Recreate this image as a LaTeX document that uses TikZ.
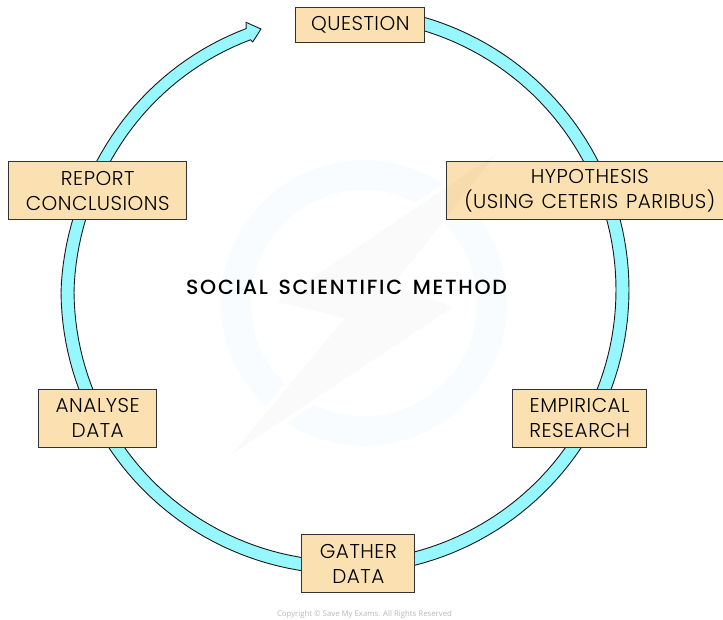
\documentclass[tikz,border=0pt]{standalone}
\usepackage{fontspec}
\setmainfont{Poppins}[UprightFont=* Light,LetterSpace=2.5,WordSpace=1.3]
\newfontfamily\titlefont{Poppins}[UprightFont=* Medium,LetterSpace=8.5,WordSpace=1.5]
\newfontfamily\copyfont{Open Sans}
\definecolor{ringfill}{HTML}{96F8FE}
\definecolor{boxfill}{HTML}{FBE1B1}
\definecolor{boxline}{HTML}{333333}
\definecolor{wmring}{HTML}{F9FCFE}
\tikzset{
  stagebox/.style={draw=boxline,fill=boxfill,line width=1pt,rectangle,inner sep=0pt,align=center,
    font=\fontsize{20}{25}\selectfont,text=black},
  titletext/.style={inner sep=0pt,font=\titlefont\fontsize{20.5}{25}\selectfont,text=black},
  copytext/.style={inner sep=0pt,font=\copyfont\fontsize{7.8}{10}\selectfont,text=black!28},
  band/.style={draw=black!90,line width=0.9pt,fill=ringfill,line join=miter}
}
\pgfmathdeclarefunction{squash}{1}{\pgfmathparse{sin(min(90,max(0,(-180-#1)*2.6)))}}
\begin{document}
\begin{tikzpicture}[x=1pt,y=-1pt]
\useasboundingbox (0,0) rectangle (723,619);
\clip (0,0) rectangle (723,619);
% watermark ring
\fill[wmring,even odd rule] (364,303) circle[radius=143] (364,303) circle[radius=113];
\draw[white,line width=9pt,line join=miter,fill=white] (497,153)--(277,302)--(345,318)--(232,454)--(453,307)--(393,285)--cycle;
% cycle band
\draw[band]
  plot[domain=80:-249.3,samples=166] ({345+(284-4.5*squash(\x))*cos(\x)},{290-(284-4.5*squash(\x))*sin(\x)})
  -- (246,22.3) -- (261,29) -- (252.7,42)
  -- plot[domain=-249.3:80,samples=166] ({345+(271-3.5*squash(\x))*cos(\x)},{290-(271-3.5*squash(\x))*sin(\x)})
  -- cycle;
% stages
\node[stagebox,minimum width=128.7pt,minimum height=35.3pt] (question) at (360.3,24.7) {\raisebox{-1pt}{QUESTION}};
\node[stagebox,minimum width=286.3pt,minimum height=58pt] (hypothesis) at (589.8,190.7) {HYPOTHESIS\\(USING CETERIS PARIBUS)};
\node[stagebox,minimum width=134pt,minimum height=58pt] (empirical) at (579.7,418.2) {EMPIRICAL\\RESEARCH};
\node[stagebox,minimum width=112.7pt,minimum height=58pt] (gather) at (358.3,563.7) {GATHER\\DATA};
\node[stagebox,minimum width=118pt,minimum height=58pt] (analyse) at (97.7,418.2) {ANALYSE\\DATA};
\node[stagebox,minimum width=178pt,minimum height=58pt] (report) at (97.7,190.5) {REPORT\\CONCLUSIONS};
\node[titletext] (title) at (346.5,287) {SOCIAL SCIENTIFIC METHOD};
\node[copytext] (copyright) at (364.5,614) {Copyright © Save My Exams. All Rights Reserved};
% watermark bolt over everything
\fill[black,opacity=0.018] (497,153)--(277,302)--(345,318)--(232,454)--(453,307)--(393,285)--cycle;
\end{tikzpicture}
\end{document}
